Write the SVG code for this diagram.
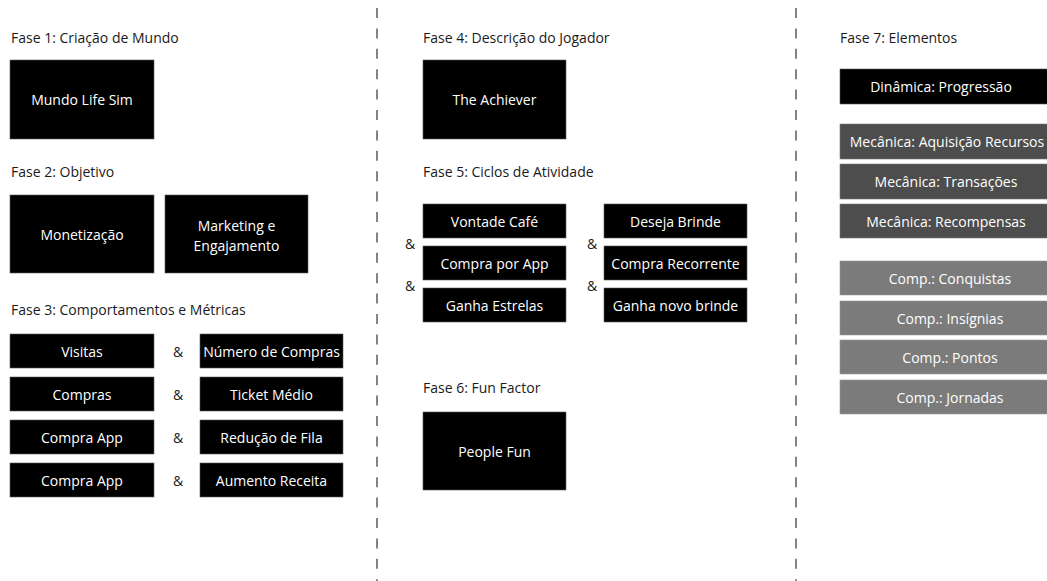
<svg xmlns="http://www.w3.org/2000/svg" width="1047" height="581" viewBox="0 0 1047 581">
<style>
text{font-family:"Open Sans","Noto Sans","Liberation Sans",sans-serif;font-size:14px}
.h{fill:#1a1a1a}
.b{fill:#000;stroke:#5a5a5a;stroke-width:0.6}
.m{fill:#4d4d4d;stroke:#777;stroke-width:0.6}
.c{fill:#7b7b7b;stroke:#999;stroke-width:0.6}
.t{fill:#fff;text-anchor:middle;dominant-baseline:central}
.a{fill:#1a1a1a;text-anchor:middle;dominant-baseline:central}
.d{stroke:#333;stroke-width:1.2;stroke-dasharray:10 10.4;fill:none}
</style>
<rect width="1047" height="581" fill="#fff"/>
<g id="separators">
<line class="d" x1="377" y1="8" x2="377" y2="581"/>
<line class="d" x1="796" y1="8" x2="796" y2="581"/>
</g>
<g id="headings">
<text class="h" x="11" y="43">Fase 1: Criação de Mundo</text>
<text class="h" x="11" y="177">Fase 2: Objetivo</text>
<text class="h" x="11" y="315">Fase 3: Comportamentos e Métricas</text>
<text class="h" x="423" y="43">Fase 4: Descrição do Jogador</text>
<text class="h" x="423" y="177">Fase 5: Ciclos de Atividade</text>
<text class="h" x="423" y="393">Fase 6: Fun Factor</text>
<text class="h" x="840" y="43">Fase 7: Elementos</text>
</g>
<g id="mundo"><rect class="b" x="10" y="60" width="144" height="79"/><text class="t" x="82" y="99.5">Mundo Life Sim</text></g>
<g id="monetizacao"><rect class="b" x="10" y="195" width="144" height="78"/><text class="t" x="82" y="234">Monetização</text></g>
<g id="marketing"><rect class="b" x="165" y="195" width="143" height="78"/><text class="t" x="236.5" y="225">Marketing e</text><text class="t" x="236.5" y="245">Engajamento</text></g>
<g id="visitas"><rect class="b" x="10" y="334" width="144" height="34"/><text class="t" x="82" y="351">Visitas</text></g>
<g id="compras"><rect class="b" x="10" y="377" width="144" height="34"/><text class="t" x="82" y="394">Compras</text></g>
<g id="compraapp1"><rect class="b" x="10" y="420" width="144" height="34"/><text class="t" x="82" y="437">Compra App</text></g>
<g id="compraapp2"><rect class="b" x="10" y="463" width="144" height="34"/><text class="t" x="82" y="480">Compra App</text></g>
<g id="numcompras"><rect class="b" x="200" y="334" width="143" height="34"/><text class="t" x="271.5" y="351">Número de Compras</text></g>
<g id="ticket"><rect class="b" x="200" y="377" width="143" height="34"/><text class="t" x="271.5" y="394">Ticket Médio</text></g>
<g id="fila"><rect class="b" x="200" y="420" width="143" height="34"/><text class="t" x="271.5" y="437">Redução de Fila</text></g>
<g id="receita"><rect class="b" x="200" y="463" width="143" height="34"/><text class="t" x="271.5" y="480">Aumento Receita</text></g>
<g id="amp1">
<text class="a" x="178" y="351">&amp;</text>
<text class="a" x="178" y="394">&amp;</text>
<text class="a" x="178" y="437">&amp;</text>
<text class="a" x="178" y="480">&amp;</text>
</g>
<g id="achiever"><rect class="b" x="423" y="60" width="143" height="79"/><text class="t" x="494.5" y="99.5">The Achiever</text></g>
<g id="vontade"><rect class="b" x="423" y="204" width="143" height="34"/><text class="t" x="494.5" y="221">Vontade Café</text></g>
<g id="compraporapp"><rect class="b" x="423" y="246" width="143" height="34"/><text class="t" x="494.5" y="263">Compra por App</text></g>
<g id="estrelas"><rect class="b" x="423" y="288" width="143" height="34"/><text class="t" x="494.5" y="305">Ganha Estrelas</text></g>
<g id="brinde"><rect class="b" x="604" y="204" width="143" height="34"/><text class="t" x="675.5" y="221">Deseja Brinde</text></g>
<g id="recorrente"><rect class="b" x="604" y="246" width="143" height="34"/><text class="t" x="675.5" y="263">Compra Recorrente</text></g>
<g id="novobrinde"><rect class="b" x="604" y="288" width="143" height="34"/><text class="t" x="675.5" y="305">Ganha novo brinde</text></g>
<g id="amp2">
<text class="a" x="410" y="243">&amp;</text>
<text class="a" x="410" y="285">&amp;</text>
<text class="a" x="592" y="243">&amp;</text>
<text class="a" x="592" y="285">&amp;</text>
</g>
<g id="peoplefun"><rect class="b" x="423" y="412" width="143" height="78"/><text class="t" x="494.5" y="451">People Fun</text></g>
<g id="dinamica"><rect class="b" x="840" y="69" width="215" height="35"/><text class="t" x="941" y="86.5">Dinâmica: Progressão</text></g>
<g id="aquisicao"><rect class="m" x="840" y="124" width="215" height="35"/><text class="t" x="947" y="141.5">Mecânica: Aquisição Recursos</text></g>
<g id="transacoes"><rect class="m" x="840" y="164" width="215" height="35"/><text class="t" x="946" y="181.5">Mecânica: Transações</text></g>
<g id="recompensas"><rect class="m" x="840" y="204" width="215" height="34"/><text class="t" x="946" y="221">Mecânica: Recompensas</text></g>
<g id="conquistas"><rect class="c" x="840" y="261" width="215" height="34"/><text class="t" x="950" y="278">Comp.: Conquistas</text></g>
<g id="insignias"><rect class="c" x="840" y="301" width="215" height="34"/><text class="t" x="950" y="318">Comp.: Insígnias</text></g>
<g id="pontos"><rect class="c" x="840" y="340" width="215" height="34"/><text class="t" x="950" y="357">Comp.: Pontos</text></g>
<g id="jornadas"><rect class="c" x="840" y="380" width="215" height="34"/><text class="t" x="950" y="397">Comp.: Jornadas</text></g>
</svg>
